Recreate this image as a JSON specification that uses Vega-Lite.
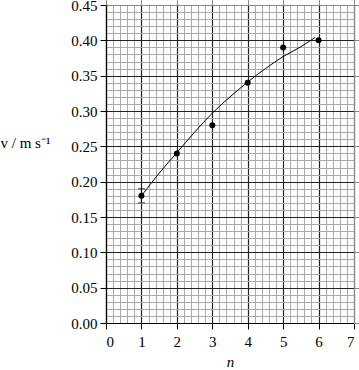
{
  "$schema": "https://vega.github.io/schema/vega-lite/v6.json",
  "width": 248,
  "height": 318,
  "autosize": "none",
  "padding": {"left": 106, "top": 5, "right": 5, "bottom": 47},
  "background": "white",
  "config": {
    "view": {"stroke": null},
    "font": "Liberation Serif, Times New Roman, serif",
    "axis": {"labelFont": "Liberation Serif, Times New Roman, serif", "titleFont": "Liberation Serif, Times New Roman, serif", "labelColor": "black", "titleColor": "black"}
  },
  "datasets": {
    "points": [
      {"n": 1, "v": 0.18},
      {"n": 2, "v": 0.24},
      {"n": 3, "v": 0.28},
      {"n": 4, "v": 0.34},
      {"n": 5, "v": 0.39},
      {"n": 6, "v": 0.40}
    ],
    "curve": [
      {"n": 1.0, "v": 0.180},
      {"n": 1.5, "v": 0.212},
      {"n": 2.0, "v": 0.241},
      {"n": 2.5, "v": 0.270},
      {"n": 3.0, "v": 0.297},
      {"n": 3.5, "v": 0.320},
      {"n": 4.0, "v": 0.341},
      {"n": 4.5, "v": 0.360},
      {"n": 5.0, "v": 0.377},
      {"n": 5.5, "v": 0.391},
      {"n": 5.9, "v": 0.404}
    ],
    "errors": [
      {"n": 1, "lo": 0.17, "hi": 0.19}
    ]
  },
  "layer": [
    {
      "data": {"name": "curve"},
      "mark": {"type": "line", "color": "black", "strokeWidth": 1, "interpolate": "monotone"},
      "encoding": {
        "x": {"field": "n", "type": "quantitative", "scale": {"domain": [0, 7], "nice": false, "zero": false},
          "axis": {"orient": "bottom", "grid": true, "gridColor": "#aaaaaa", "gridWidth": 1, "gridOpacity": 1,
            "values": [0,0.2,0.4,0.6,0.8,1,1.2,1.4,1.6,1.8,2,2.2,2.4,2.6,2.8,3,3.2,3.4,3.6,3.8,4,4.2,4.4,4.6,4.8,5,5.2,5.4,5.6,5.8,6,6.2,6.4,6.6,6.8,7],
            "labels": false, "ticks": false, "domain": false, "title": null}},
        "y": {"field": "v", "type": "quantitative", "scale": {"domain": [0, 0.45], "nice": false},
          "axis": {"orient": "left", "grid": true, "gridColor": "#aaaaaa", "gridWidth": 1, "gridOpacity": 1,
            "values": [0,0.01,0.02,0.03,0.04,0.05,0.06,0.07,0.08,0.09,0.1,0.11,0.12,0.13,0.14,0.15,0.16,0.17,0.18,0.19,0.2,0.21,0.22,0.23,0.24,0.25,0.26,0.27,0.28,0.29,0.3,0.31,0.32,0.33,0.34,0.35,0.36,0.37,0.38,0.39,0.4,0.41,0.42,0.43,0.44,0.45],
            "labels": false, "ticks": false, "domain": false, "title": null}}
      }
    },
    {
      "data": {"name": "points"},
      "mark": {"type": "circle", "color": "black", "size": 36, "opacity": 1},
      "encoding": {
        "x": {"field": "n", "type": "quantitative",
          "axis": {"orient": "bottom", "grid": true, "gridColor": "#222222", "gridWidth": 1.2, "gridOpacity": 1,
            "values": [0,1,2,3,4,5,6,7], "format": "d",
            "labelFont": "Liberation Serif, Times New Roman, serif", "labelFontSize": 15, "labelPadding": 5, "tickSize": 6, "tickColor": "black", "domainColor": "black", "domainWidth": 1.2,
            "title": "n", "titleFont": "Liberation Serif, Times New Roman, serif", "titleFontStyle": "italic", "titleFontWeight": "normal", "titleFontSize": 15,
            "titleY": 43, "titleBaseline": "alphabetic"}},
        "y": {"field": "v", "type": "quantitative",
          "axis": {"orient": "left", "grid": true, "gridColor": "#222222", "gridWidth": 1.2, "gridOpacity": 1,
            "values": [0,0.05,0.1,0.15,0.2,0.25,0.3,0.35,0.4,0.45], "format": ".2f",
            "labelFont": "Liberation Serif, Times New Roman, serif", "labelFontSize": 15, "labelPadding": 3, "tickSize": 6, "tickColor": "black", "domainColor": "black", "domainWidth": 1.2,
            "title": "v / m s⁻¹", "titleFont": "Liberation Serif, Times New Roman, serif", "titleAngle": 0, "titleFontWeight": "normal", "titleFontSize": 15,
            "titleX": -106, "titleY": 142, "titleAlign": "left", "titleBaseline": "alphabetic"}}
      }
    },
    {
      "data": {"name": "errors"},
      "mark": {"type": "rule", "color": "black", "strokeWidth": 1},
      "encoding": {
        "x": {"field": "n", "type": "quantitative"},
        "y": {"field": "lo", "type": "quantitative"},
        "y2": {"field": "hi"}
      }
    },
    {
      "data": {"name": "errors"},
      "mark": {"type": "tick", "color": "black", "orient": "horizontal", "size": 7, "thickness": 1},
      "encoding": {
        "x": {"field": "n", "type": "quantitative"},
        "y": {"field": "lo", "type": "quantitative"}
      }
    },
    {
      "data": {"name": "errors"},
      "mark": {"type": "tick", "color": "black", "orient": "horizontal", "size": 7, "thickness": 1},
      "encoding": {
        "x": {"field": "n", "type": "quantitative"},
        "y": {"field": "hi", "type": "quantitative"}
      }
    }
  ],
  "resolve": {"axis": {"x": "independent", "y": "independent"}}
}
